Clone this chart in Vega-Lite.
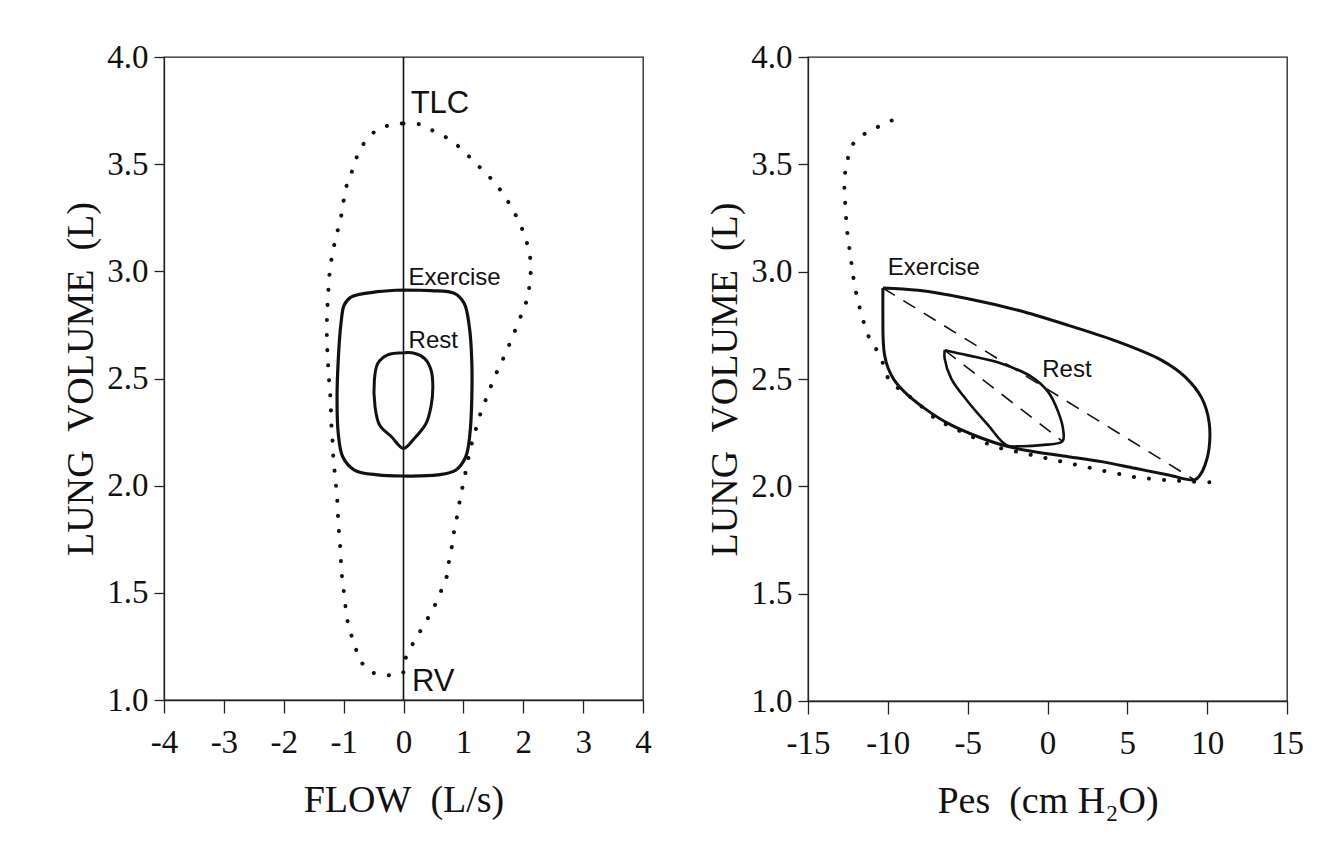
{
  "$schema": "https://vega.github.io/schema/vega-lite/v6.json",
  "background": "white",
  "padding": {"left": 62, "top": 40, "right": 5, "bottom": 5},
  "config": {
    "view": {"stroke": "#222", "strokeWidth": 1.3},
    "axis": {
      "labelFont": "Liberation Serif", "titleFont": "Liberation Serif",
      "labelFontSize": 33, "titleFontSize": 38, "titleFontWeight": "normal",
      "labelColor": "#111", "titleColor": "#111", "domainColor": "#222", "tickColor": "#222",
      "grid": false, "domainWidth": 1.3, "tickWidth": 1.3, "labelFlush": false, "labelOverlap": false
    },
    "axisX": {"tickSize": 13, "labelPadding": 13, "titlePadding": 22},
    "axisY": {"tickSize": 10, "labelPadding": 6, "titlePadding": 6},
    "line": {"color": "#111"},
    "text": {"font": "Liberation Sans", "color": "#111"}
  },
  "datasets": {
    "L_zero": [{"i": 0, "x": 0, "y": 1.0}, {"i": 1, "x": 0, "y": 4.0}],
    "L_mef": [
      {"i": 0, "x": 0, "y": 3.69}, {"i": 1, "x": 0.27, "y": 3.686}, {"i": 2, "x": 0.5, "y": 3.655},
      {"i": 3, "x": 0.74, "y": 3.62}, {"i": 4, "x": 0.955, "y": 3.574}, {"i": 5, "x": 1.15, "y": 3.52},
      {"i": 6, "x": 1.33, "y": 3.47}, {"i": 7, "x": 1.51, "y": 3.418}, {"i": 8, "x": 1.665, "y": 3.36},
      {"i": 9, "x": 1.8, "y": 3.3}, {"i": 10, "x": 1.92, "y": 3.236}, {"i": 11, "x": 2.02, "y": 3.17},
      {"i": 12, "x": 2.09, "y": 3.1}, {"i": 13, "x": 2.13, "y": 3.025}, {"i": 14, "x": 2.11, "y": 2.96},
      {"i": 15, "x": 2.08, "y": 2.885}, {"i": 16, "x": 2.0, "y": 2.82}, {"i": 17, "x": 1.9, "y": 2.75},
      {"i": 18, "x": 1.8, "y": 2.68}, {"i": 19, "x": 1.7, "y": 2.614}, {"i": 20, "x": 1.6, "y": 2.555},
      {"i": 21, "x": 1.49, "y": 2.485}, {"i": 22, "x": 1.406, "y": 2.423}, {"i": 23, "x": 1.306, "y": 2.353},
      {"i": 24, "x": 1.23, "y": 2.283}, {"i": 25, "x": 1.156, "y": 2.213}, {"i": 26, "x": 1.1, "y": 2.151},
      {"i": 27, "x": 1.044, "y": 2.073}, {"i": 28, "x": 0.99, "y": 2.0}, {"i": 29, "x": 0.94, "y": 1.93},
      {"i": 30, "x": 0.897, "y": 1.86}, {"i": 31, "x": 0.847, "y": 1.79}, {"i": 32, "x": 0.81, "y": 1.72},
      {"i": 33, "x": 0.76, "y": 1.647}, {"i": 34, "x": 0.716, "y": 1.57}, {"i": 35, "x": 0.63, "y": 1.51},
      {"i": 36, "x": 0.52, "y": 1.44}, {"i": 37, "x": 0.4, "y": 1.378}, {"i": 38, "x": 0.27, "y": 1.316},
      {"i": 39, "x": 0.137, "y": 1.253}, {"i": 40, "x": 0.03, "y": 1.19}, {"i": 41, "x": 0.0, "y": 1.13},
      {"i": 42, "x": -0.15, "y": 1.115}, {"i": 43, "x": -0.31, "y": 1.118}, {"i": 44, "x": -0.566, "y": 1.134},
      {"i": 45, "x": -0.73, "y": 1.19}, {"i": 46, "x": -0.82, "y": 1.26}, {"i": 47, "x": -0.89, "y": 1.32},
      {"i": 48, "x": -0.95, "y": 1.39}, {"i": 49, "x": -0.98, "y": 1.47}, {"i": 50, "x": -1.015, "y": 1.545},
      {"i": 51, "x": -1.04, "y": 1.616}, {"i": 52, "x": -1.05, "y": 1.69}, {"i": 53, "x": -1.07, "y": 1.76},
      {"i": 54, "x": -1.09, "y": 1.83}, {"i": 55, "x": -1.1, "y": 1.907}, {"i": 56, "x": -1.12, "y": 1.977},
      {"i": 57, "x": -1.144, "y": 2.05}, {"i": 58, "x": -1.17, "y": 2.12}, {"i": 59, "x": -1.18, "y": 2.19},
      {"i": 60, "x": -1.2, "y": 2.26}, {"i": 61, "x": -1.21, "y": 2.334}, {"i": 62, "x": -1.22, "y": 2.408},
      {"i": 63, "x": -1.24, "y": 2.478}, {"i": 64, "x": -1.256, "y": 2.547}, {"i": 65, "x": -1.27, "y": 2.62},
      {"i": 66, "x": -1.28, "y": 2.695}, {"i": 67, "x": -1.28, "y": 2.765}, {"i": 68, "x": -1.27, "y": 2.835},
      {"i": 69, "x": -1.256, "y": 2.905}, {"i": 70, "x": -1.24, "y": 2.975}, {"i": 71, "x": -1.21, "y": 3.045},
      {"i": 72, "x": -1.16, "y": 3.12}, {"i": 73, "x": -1.1, "y": 3.19}, {"i": 74, "x": -1.04, "y": 3.26},
      {"i": 75, "x": -1.0, "y": 3.33}, {"i": 76, "x": -0.95, "y": 3.4}, {"i": 77, "x": -0.855, "y": 3.47},
      {"i": 78, "x": -0.77, "y": 3.54}, {"i": 79, "x": -0.653, "y": 3.6}, {"i": 80, "x": -0.46, "y": 3.656},
      {"i": 81, "x": -0.255, "y": 3.68}, {"i": 82, "x": 0, "y": 3.69}
    ],
    "L_ex": [
      {"i": 0, "x": 0, "y": 2.913}, {"i": 1, "x": 0.46, "y": 2.91}, {"i": 2, "x": 0.85, "y": 2.897},
      {"i": 3, "x": 1.015, "y": 2.85}, {"i": 4, "x": 1.1, "y": 2.74}, {"i": 5, "x": 1.14, "y": 2.586},
      {"i": 6, "x": 1.14, "y": 2.4}, {"i": 7, "x": 1.11, "y": 2.244}, {"i": 8, "x": 1.04, "y": 2.135},
      {"i": 9, "x": 0.877, "y": 2.073}, {"i": 10, "x": 0.57, "y": 2.05}, {"i": 11, "x": 0, "y": 2.045},
      {"i": 12, "x": -0.43, "y": 2.05}, {"i": 13, "x": -0.82, "y": 2.073}, {"i": 14, "x": -1.015, "y": 2.135},
      {"i": 15, "x": -1.09, "y": 2.244}, {"i": 16, "x": -1.11, "y": 2.4}, {"i": 17, "x": -1.09, "y": 2.586},
      {"i": 18, "x": -1.044, "y": 2.757}, {"i": 19, "x": -0.99, "y": 2.843}, {"i": 20, "x": -0.877, "y": 2.88},
      {"i": 21, "x": -0.43, "y": 2.905}, {"i": 22, "x": 0, "y": 2.913}
    ],
    "L_rest": [
      {"i": 0, "x": 0, "y": 2.62}, {"i": 1, "x": 0.18, "y": 2.618}, {"i": 2, "x": 0.35, "y": 2.594},
      {"i": 3, "x": 0.46, "y": 2.54}, {"i": 4, "x": 0.49, "y": 2.46}, {"i": 5, "x": 0.46, "y": 2.37},
      {"i": 6, "x": 0.376, "y": 2.29}, {"i": 7, "x": 0.18, "y": 2.22}, {"i": 8, "x": 0, "y": 2.174},
      {"i": 9, "x": -0.2, "y": 2.228}, {"i": 10, "x": -0.4, "y": 2.283}, {"i": 11, "x": -0.476, "y": 2.37},
      {"i": 12, "x": -0.487, "y": 2.49}, {"i": 13, "x": -0.43, "y": 2.57}, {"i": 14, "x": -0.265, "y": 2.61},
      {"i": 15, "x": 0, "y": 2.62}
    ],
    "L_big": [{"x": 0.12, "y": 3.74, "label": "TLC"}, {"x": 0.14, "y": 1.043, "label": "RV"}],
    "L_small": [{"x": 0.085, "y": 2.936, "label": "Exercise"}, {"x": 0.085, "y": 2.641, "label": "Rest"}],
    "R_mef": [
      {"i": 0, "x": -9.76, "y": 3.704}, {"i": 1, "x": -10.58, "y": 3.676}, {"i": 2, "x": -11.39, "y": 3.645},
      {"i": 3, "x": -12.13, "y": 3.6}, {"i": 4, "x": -12.48, "y": 3.533}, {"i": 5, "x": -12.67, "y": 3.464},
      {"i": 6, "x": -12.72, "y": 3.39}, {"i": 7, "x": -12.67, "y": 3.32}, {"i": 8, "x": -12.61, "y": 3.247},
      {"i": 9, "x": -12.53, "y": 3.177}, {"i": 10, "x": -12.4, "y": 3.104}, {"i": 11, "x": -12.26, "y": 3.03},
      {"i": 12, "x": -12.13, "y": 2.96}, {"i": 13, "x": -11.94, "y": 2.885}, {"i": 14, "x": -11.72, "y": 2.82},
      {"i": 15, "x": -11.45, "y": 2.75}, {"i": 16, "x": -11.09, "y": 2.68}, {"i": 17, "x": -10.49, "y": 2.61},
      {"i": 18, "x": -9.95, "y": 2.5}, {"i": 19, "x": -9.2, "y": 2.448}, {"i": 20, "x": -8.3, "y": 2.4},
      {"i": 21, "x": -7.5, "y": 2.345}, {"i": 22, "x": -6.8, "y": 2.305}, {"i": 23, "x": -6.03, "y": 2.278},
      {"i": 24, "x": -5.19, "y": 2.247}, {"i": 25, "x": -4.25, "y": 2.215}, {"i": 26, "x": -3.31, "y": 2.185},
      {"i": 27, "x": -2.37, "y": 2.169}, {"i": 28, "x": -1.42, "y": 2.153}, {"i": 29, "x": -0.48, "y": 2.138},
      {"i": 30, "x": 0.46, "y": 2.122}, {"i": 31, "x": 1.4, "y": 2.107}, {"i": 32, "x": 2.34, "y": 2.092},
      {"i": 33, "x": 3.28, "y": 2.076}, {"i": 34, "x": 4.33, "y": 2.06}, {"i": 35, "x": 5.27, "y": 2.045},
      {"i": 36, "x": 6.21, "y": 2.037}, {"i": 37, "x": 7.26, "y": 2.03}, {"i": 38, "x": 8.2, "y": 2.026},
      {"i": 39, "x": 9.15, "y": 2.022}, {"i": 40, "x": 10.19, "y": 2.019}
    ],
    "R_ex": [
      {"i": 0, "x": -10.31, "y": 2.924}, {"i": 1, "x": -8.11, "y": 2.913}, {"i": 2, "x": -4.98, "y": 2.874},
      {"i": 3, "x": -1.84, "y": 2.82}, {"i": 4, "x": 1.3, "y": 2.75}, {"i": 5, "x": 4.44, "y": 2.673},
      {"i": 6, "x": 7.16, "y": 2.587}, {"i": 7, "x": 8.62, "y": 2.51}, {"i": 8, "x": 9.67, "y": 2.41},
      {"i": 9, "x": 10.12, "y": 2.3}, {"i": 10, "x": 10.12, "y": 2.177}, {"i": 11, "x": 9.87, "y": 2.1},
      {"i": 12, "x": 9.56, "y": 2.053}, {"i": 13, "x": 9.21, "y": 2.03}, {"i": 14, "x": 7.58, "y": 2.053},
      {"i": 15, "x": 5.48, "y": 2.084}, {"i": 16, "x": 3.39, "y": 2.115}, {"i": 17, "x": 1.3, "y": 2.138},
      {"i": 18, "x": -0.8, "y": 2.161}, {"i": 19, "x": -2.47, "y": 2.185}, {"i": 20, "x": -4.35, "y": 2.231},
      {"i": 21, "x": -6.23, "y": 2.293}, {"i": 22, "x": -7.7, "y": 2.363}, {"i": 23, "x": -8.96, "y": 2.44},
      {"i": 24, "x": -9.6, "y": 2.495}, {"i": 25, "x": -9.98, "y": 2.55}, {"i": 26, "x": -10.2, "y": 2.61},
      {"i": 27, "x": -10.29, "y": 2.68}, {"i": 28, "x": -10.31, "y": 2.8}, {"i": 29, "x": -10.31, "y": 2.924}
    ],
    "R_rest": [
      {"i": 0, "x": -6.44, "y": 2.634}, {"i": 1, "x": -4.98, "y": 2.61}, {"i": 2, "x": -2.89, "y": 2.572},
      {"i": 3, "x": -1.0, "y": 2.51}, {"i": 4, "x": 0.04, "y": 2.44}, {"i": 5, "x": 0.67, "y": 2.347},
      {"i": 6, "x": 0.985, "y": 2.262}, {"i": 7, "x": 0.94, "y": 2.21}, {"i": 8, "x": -0.38, "y": 2.192},
      {"i": 9, "x": -1.63, "y": 2.187}, {"i": 10, "x": -2.57, "y": 2.192}, {"i": 11, "x": -3.72, "y": 2.285},
      {"i": 12, "x": -4.98, "y": 2.394}, {"i": 13, "x": -6.03, "y": 2.502}, {"i": 14, "x": -6.44, "y": 2.595},
      {"i": 15, "x": -6.44, "y": 2.634}
    ],
    "R_dash": [
      {"line": "ex", "i": 0, "x": -10.31, "y": 2.924}, {"line": "ex", "i": 1, "x": 9.21, "y": 2.03},
      {"line": "rest", "i": 0, "x": -6.44, "y": 2.634}, {"line": "rest", "i": 1, "x": 0.94, "y": 2.21}
    ],
    "R_small": [{"x": -10.0, "y": 2.983, "label": "Exercise"}, {"x": -0.33, "y": 2.51, "label": "Rest"}]
  },
  "spacing": 54,
  "hconcat": [
    {
      "width": 479,
      "height": 643,
      "encoding": {
        "x": {"field": "x", "type": "quantitative", "scale": {"domain": [-4, 4], "nice": false, "zero": false},
              "axis": {"values": [-4, -3, -2, -1, 0, 1, 2, 3, 4], "title": "FLOW\u00a0 (L/s)", "labelExpr": "replace(datum.label, '\u2212', '-')"}},
        "y": {"field": "y", "type": "quantitative", "scale": {"domain": [1, 4], "nice": false, "zero": false},
              "axis": {"values": [1, 1.5, 2, 2.5, 3, 3.5, 4], "format": ".1f", "title": "LUNG\u00a0 VOLUME\u00a0 (L)"}}
      },
      "layer": [
        {"data": {"name": "L_zero"}, "mark": {"type": "line", "strokeWidth": 1.6}, "encoding": {"order": {"field": "i"}}},
        {"data": {"name": "L_mef"}, "mark": {"type": "line", "strokeWidth": 4, "strokeDash": [0.1, 15], "strokeCap": "round", "interpolate": "catmull-rom"}, "encoding": {"order": {"field": "i"}}},
        {"data": {"name": "L_ex"}, "mark": {"type": "line", "strokeWidth": 3.2, "interpolate": "catmull-rom"}, "encoding": {"order": {"field": "i"}}},
        {"data": {"name": "L_rest"}, "mark": {"type": "line", "strokeWidth": 3.0, "interpolate": "catmull-rom"}, "encoding": {"order": {"field": "i"}}},
        {"data": {"name": "L_big"}, "mark": {"type": "text", "align": "left", "baseline": "alphabetic", "fontSize": 31}, "encoding": {"text": {"field": "label"}}},
        {"data": {"name": "L_small"}, "mark": {"type": "text", "align": "left", "baseline": "alphabetic", "fontSize": 24}, "encoding": {"text": {"field": "label"}}}
      ]
    },
    {
      "width": 479,
      "height": 644,
      "encoding": {
        "x": {"field": "x", "type": "quantitative", "scale": {"domain": [-15, 15], "nice": false, "zero": false},
              "axis": {"values": [-15, -10, -5, 0, 5, 10, 15], "title": "Pes\u00a0 (cm H\u2082O)", "labelExpr": "replace(datum.label, '\u2212', '-')"}},
        "y": {"field": "y", "type": "quantitative", "scale": {"domain": [1, 4], "nice": false, "zero": false},
              "axis": {"values": [1, 1.5, 2, 2.5, 3, 3.5, 4], "format": ".1f", "title": "LUNG\u00a0 VOLUME\u00a0 (L)"}}
      },
      "layer": [
        {"data": {"name": "R_mef"}, "mark": {"type": "line", "strokeWidth": 4, "strokeDash": [0.1, 15], "strokeCap": "round", "interpolate": "catmull-rom"}, "encoding": {"order": {"field": "i"}}},
        {"data": {"name": "R_dash"}, "mark": {"type": "line", "strokeWidth": 1.6, "strokeDash": [14, 10]}, "encoding": {"order": {"field": "i"}, "detail": {"field": "line"}}},
        {"data": {"name": "R_ex"}, "mark": {"type": "line", "strokeWidth": 3.0, "interpolate": "catmull-rom"}, "encoding": {"order": {"field": "i"}}},
        {"data": {"name": "R_rest"}, "mark": {"type": "line", "strokeWidth": 2.6, "interpolate": "catmull-rom"}, "encoding": {"order": {"field": "i"}}},
        {"data": {"name": "R_small"}, "mark": {"type": "text", "align": "left", "baseline": "alphabetic", "fontSize": 24}, "encoding": {"text": {"field": "label"}}}
      ]
    }
  ]
}
